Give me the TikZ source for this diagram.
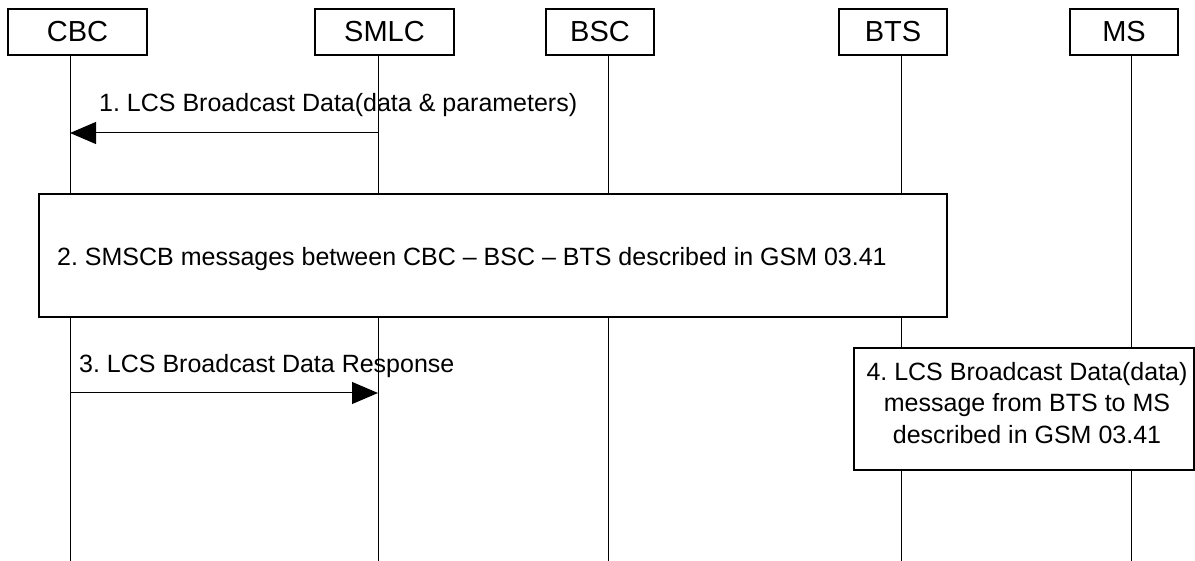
\documentclass[tikz,border=0pt]{standalone}
\usepackage{fontspec}
\setmainfont{Liberation Sans}
\usepackage{tikz}
\usetikzlibrary{positioning,arrows.meta,calc}
\definecolor{ink}{RGB}{0,0,0}
\tikzset{
  hdr/.style={draw=ink, fill=white, align=center, inner sep=0pt, line width=1.2pt,
    minimum height=46pt, font=\fontsize{29}{34}\selectfont, text=ink},
  lifeline/.style={draw=ink, line width=1pt},
  msg/.style={-{Triangle[length=26pt, width=22pt]}, line width=1pt, draw=ink},
  procbox/.style={draw=ink, fill=white, line width=1.2pt, inner sep=0pt},
  lbl/.style={font=\fontsize{25}{31.5}\selectfont, text=ink, inner sep=0pt},
}

\begin{document}
\frenchspacing
\begin{tikzpicture}[x=1pt, y=-1pt]
  \useasboundingbox (0,0) rectangle (1195,561);
  \def\lxcbc{70} \def\lxsmlc{378} \def\lxbsc{608} \def\lxbts{901} \def\lxms{1131}
  % entities
  \node[hdr, minimum width=139pt] (cbc) at (77.5,32) {CBC};
  \node[hdr, minimum width=139pt] (smlc) at (384.5,32) {SMLC};
  \node[hdr, minimum width=108pt] (bsc) at (600,32) {BSC};
  \node[hdr, minimum width=108pt] (bts) at (893,32) {BTS};
  \node[hdr, minimum width=108pt] (ms) at (1124,32) {MS};
  % lifelines
  \foreach \p/\x in {cbc/\lxcbc, smlc/\lxsmlc, bsc/\lxbsc, bts/\lxbts, ms/\lxms} {
    \coordinate (\p top) at (\x,55);
    \coordinate (\p bot) at (\x,561);
    \draw[lifeline] (\p top) -- (\p bot);
  }
  % 1
  \coordinate (m1from) at (\lxsmlc,133); \coordinate (m1to) at (\lxcbc,133);
  \draw[msg] (m1from) -- (m1to);
  \node[lbl, anchor=base west] (m1lbl) at (99,112) {1. LCS Broadcast Data(data \& parameters)};
  % 2
  \node[procbox, minimum width=908pt, minimum height=123pt] (sms) at (493,255.5) {};
  \node[lbl, anchor=base west] (smslbl) at (57,266) {2. SMSCB messages between CBC – BSC – BTS described in GSM 03.41};
  % 3
  \coordinate (m3from) at (\lxcbc,393); \coordinate (m3to) at (\lxsmlc,393);
  \draw[msg] (m3from) -- (m3to);
  \node[lbl, anchor=base west] (m3lbl) at (79,373) {3. LCS Broadcast Data Response};
  % 4
  \node[procbox, minimum width=340pt, minimum height=122pt] (bcast) at (1024,409) {};
  \node[lbl, align=center, anchor=north] (bcastlbl) at (1027,362) {4. LCS Broadcast Data(data)\\message from BTS to MS\\described in GSM 03.41};
\end{tikzpicture}
\end{document}
